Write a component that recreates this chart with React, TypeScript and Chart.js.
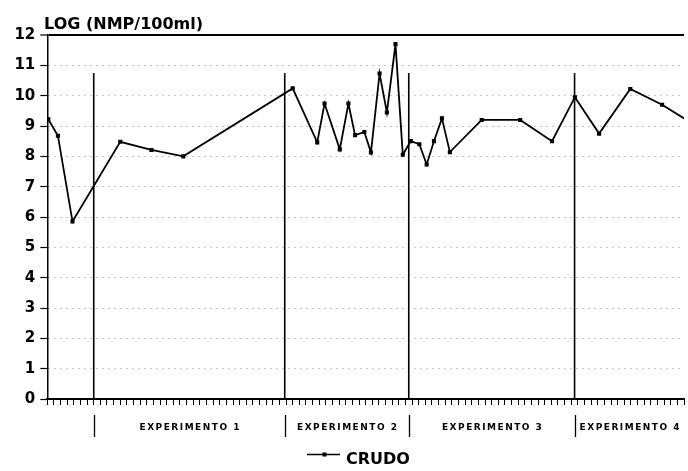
import React, { useEffect, useRef } from "react";
import { Chart, registerables } from "chart.js";

Chart.register(...registerables);

// Sampling position (axis units, one tick each) and LOG(NMP/100ml) values
const sampleX = [0.15, 1.6, 3.8, 11.0, 15.7, 20.5, 37.0, 40.7, 41.8, 44.1, 45.4, 46.4, 47.8, 48.8, 50.1, 51.2, 52.5, 53.6, 54.8, 56.1, 57.2, 58.3, 59.5, 60.7, 65.5, 71.3, 76.1, 79.55, 83.2, 87.9, 92.7, 96];
const crudoValues = [9.22, 8.68, 5.85, 8.48, 8.21, 8.0, 10.24, 8.46, 9.74, 8.23, 9.74, 8.7, 8.8, 8.13, 10.73, 9.45, 11.7, 8.05, 8.5, 8.4, 7.73, 8.5, 9.25, 8.14, 9.2, 9.2, 8.5, 9.95, 8.75, 10.22, 9.7, 9.25];

// Experiment boundaries (x axis units) and their labels
const separatorX = [7.0, 35.8, 54.5, 79.5];
const separatorTop = 10.75;
const experimentLabels = ["EXPERIMENTO 1", "EXPERIMENTO 2", "EXPERIMENTO 3", "EXPERIMENTO 4"];

const yTicks = [0, 1, 2, 3, 4, 5, 6, 7, 8, 9, 10, 11, 12];
const X_MIN = 0;
const X_MAX = 96;

const titleText = "LOG (NMP/100ml)";
const seriesLabel = "CRUDO";

const FONT = "'DejaVu Sans', 'Liberation Sans', Arial, sans-serif";

const overlayPlugin = {
  id: "overlay",
  afterDraw(chart: any) {
    const ctx = chart.ctx as CanvasRenderingContext2D;
    const xs = chart.scales.x;
    ctx.save();
    // Title
    ctx.fillStyle = "#000";
    ctx.font = `bold 16px ${FONT}`;
    ctx.textAlign = "left";
    ctx.textBaseline = "alphabetic";
    ctx.fillText(titleText, 44, 28.5);

    // Separator bars below the axis and experiment labels
    ctx.strokeStyle = "#000";
    ctx.lineWidth = 1.3;
    separatorX.forEach((v) => {
      const px = Math.round(xs.getPixelForValue(v)) + 0.5;
      ctx.beginPath();
      ctx.moveTo(px, 415);
      ctx.lineTo(px, 437);
      ctx.stroke();
    });
    ctx.font = `bold 9px ${FONT}`;
    (ctx as any).letterSpacing = "1.5px";
    ctx.textAlign = "center";
    ctx.textBaseline = "middle";
    experimentLabels.forEach((lab, i) => {
      const a = separatorX[i];
      const b = i + 1 < separatorX.length ? separatorX[i + 1] : X_MAX;
      const cx = xs.getPixelForValue((a + b) / 2);
      ctx.fillText(lab, cx + 1, 428);
    });
    (ctx as any).letterSpacing = "0px";

    // Legend
    ctx.lineWidth = 1.5;
    ctx.beginPath();
    ctx.moveTo(307, 454.5);
    ctx.lineTo(340, 454.5);
    ctx.stroke();
    ctx.fillRect(322.5, 452.5, 4, 4);
    ctx.font = `bold 16px ${FONT}`;
    ctx.textAlign = "left";
    ctx.textBaseline = "alphabetic";
    ctx.fillText(seriesLabel, 346, 464);
    ctx.restore();
  },
};

export default function App() {
  const ref = useRef<HTMLCanvasElement | null>(null);
  useEffect(() => {
    if (!ref.current) return;
    const separatorSets = separatorX.map((v) => ({
      label: "sep",
      data: [
        { x: v, y: 0 },
        { x: v, y: separatorTop },
      ],
      borderColor: "#000",
      borderWidth: 1.6,
      pointRadius: 0,
      tension: 0,
    }));
    const lastIndex = sampleX.length - 1;
    const chart = new Chart(ref.current, {
      type: "line",
      data: {
        datasets: [
          {
            label: seriesLabel,
            data: sampleX.map((x, i) => ({ x, y: crudoValues[i] })),
            borderColor: "#000",
            backgroundColor: "#000",
            borderWidth: 1.8,
            pointStyle: "rect",
            pointRadius: (c: any) => (c.dataIndex === lastIndex ? 0 : 2.9),
            pointBorderWidth: 0,
            tension: 0,
          },
          ...separatorSets,
        ],
      },
      options: {
        responsive: false,
        animation: false,
        devicePixelRatio: 1,
        layout: { padding: { top: 35, left: 0, right: 0, bottom: 0 } },
        plugins: {
          legend: { display: false },
          tooltip: { enabled: false },
          title: { display: false },
        },
        scales: {
          x: {
            type: "linear",
            min: X_MIN,
            max: X_MAX,
            afterFit: (s: any) => {
              s.height = 72;
            },
            ticks: {
              stepSize: 1,
              autoSkip: false,
              callback: () => "",
              font: { size: 1 },
            },
            grid: {
              drawOnChartArea: false,
              drawTicks: true,
              tickLength: 6,
              tickColor: "#000",
              tickWidth: 1,
              color: "#000",
            },
            border: { display: true, color: "#000", width: 2 },
          },
          y: {
            type: "linear",
            min: 0,
            max: 12,
            afterFit: (s: any) => {
              s.width = 47.3;
            },
            afterBuildTicks: (s: any) => {
              s.ticks = yTicks.map((v) => ({ value: v }));
            },
            ticks: {
              color: "#000",
              padding: 5,
              font: { family: FONT, size: 15, weight: "bold" },
            },
            grid: {
              drawTicks: true,
              tickLength: 7,
              tickColor: "#000",
              tickWidth: 1.2,
              color: (c: any) => (c.tick && c.tick.value === 12 ? "#000" : "rgba(0,0,0,0.45)"),
              lineWidth: (c: any) => (c.tick && c.tick.value === 12 ? 2 : 1),
            },
            border: {
              display: true,
              color: "#000",
              width: 1.5,
              dash: (c: any) => (c.tick && (c.tick.value === 12 || c.tick.value === 0) ? [] : [1, 5]),
            },
          },
        },
      },
      plugins: [overlayPlugin],
    } as any);
    return () => chart.destroy();
  }, []);
  return (
    <div style={{ position: "absolute", left: 0, top: 0, width: 688, height: 471, background: "#fff" }}>
      <canvas ref={ref} width={688} height={471} style={{ display: "block" }} />
    </div>
  );
}
